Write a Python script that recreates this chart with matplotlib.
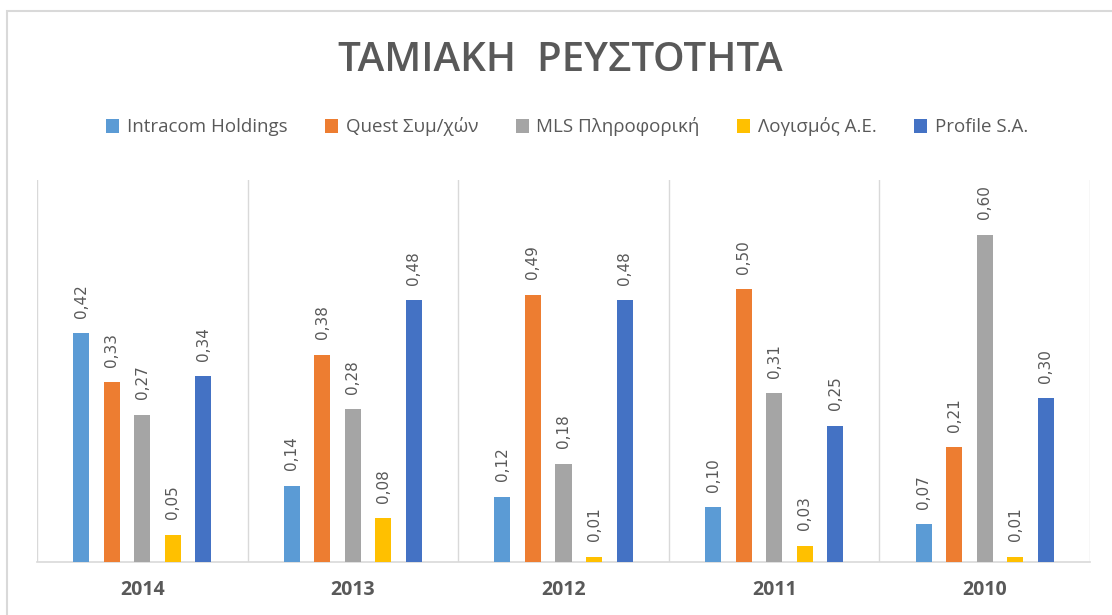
import numpy as np
import matplotlib.pyplot as plt
from matplotlib.patches import Rectangle

plt.rcParams['font.family'] = ['Open Sans', 'DejaVu Sans']

years = ['2014', '2013', '2012', '2011', '2010']
series = ['Intracom Holdings', 'Quest Συμ/χών', 'MLS Πληροφορική', 'Λογισμός Α.Ε.', 'Profile S.A.']
intracom = [0.42, 0.14, 0.12, 0.10, 0.07]
quest = [0.33, 0.38, 0.49, 0.50, 0.21]
mls = [0.27, 0.28, 0.18, 0.31, 0.60]
logismos = [0.05, 0.08, 0.01, 0.03, 0.01]
profile = [0.34, 0.48, 0.48, 0.25, 0.30]
colors = ['#5B9BD5', '#ED7D31', '#A5A5A5', '#FFC000', '#4472C4']

txt = '#595959'
grid = '#d9d9d9'

fig = plt.figure(figsize=(11.12, 6.15), dpi=100)
ax = fig.add_axes([37/1112, 1-562/615, (1090-37)/1112, (562-180)/615])

x = np.arange(len(years))
step = 0.145
w = 0.076
for i, (name, vals) in enumerate(zip(series, [intracom, quest, mls, logismos, profile])):
    pos = x + (i - 2) * step
    ax.bar(pos, vals, width=w, color=colors[i], label=name, zorder=3)
    for p, v in zip(pos, vals):
        ax.annotate(('%.2f' % v).replace('.', ','), (p, v), xytext=(0, 11),
                    textcoords='offset points', rotation=90, ha='center', va='bottom',
                    color=txt, fontsize=11, family=['DejaVu Sans'])

ax.set_xlim(-0.5, len(years) - 0.5)
ax.set_ylim(0, 0.70)
for b in np.arange(-0.5, len(years), 1.0):
    ax.axvline(b, color=grid, lw=1, zorder=1)
ax.set_xticks(x)
ax.set_xticklabels(years, fontsize=14, fontweight='bold', color=txt)
ax.tick_params(axis='x', length=0, pad=13)
ax.set_yticks([])
for s in ['top', 'right', 'left']:
    ax.spines[s].set_visible(False)
ax.spines['bottom'].set_color(grid)
ax.spines['bottom'].set_linewidth(1.2)

fig.text(0.504, 1-61/615, 'ΤΑΜΙΑΚΗ  ΡΕΥΣΤΟΤΗΤΑ', ha='center', va='center',
         fontsize=29, color=txt, fontweight='semibold')

fig.legend(loc='center', bbox_to_anchor=(0.510, 1-127/615), ncol=5, frameon=False,
           fontsize=13.5, handlelength=0.7, handleheight=0.7, handletextpad=0.4,
           columnspacing=2.0, labelcolor=txt)

fig.patches.append(Rectangle((7/1112, -0.1), 1.2, 1.1 - 11/615,
                             transform=fig.transFigure, fill=False,
                             edgecolor=grid, lw=1.5))

fig.savefig('out.png', dpi=100)
